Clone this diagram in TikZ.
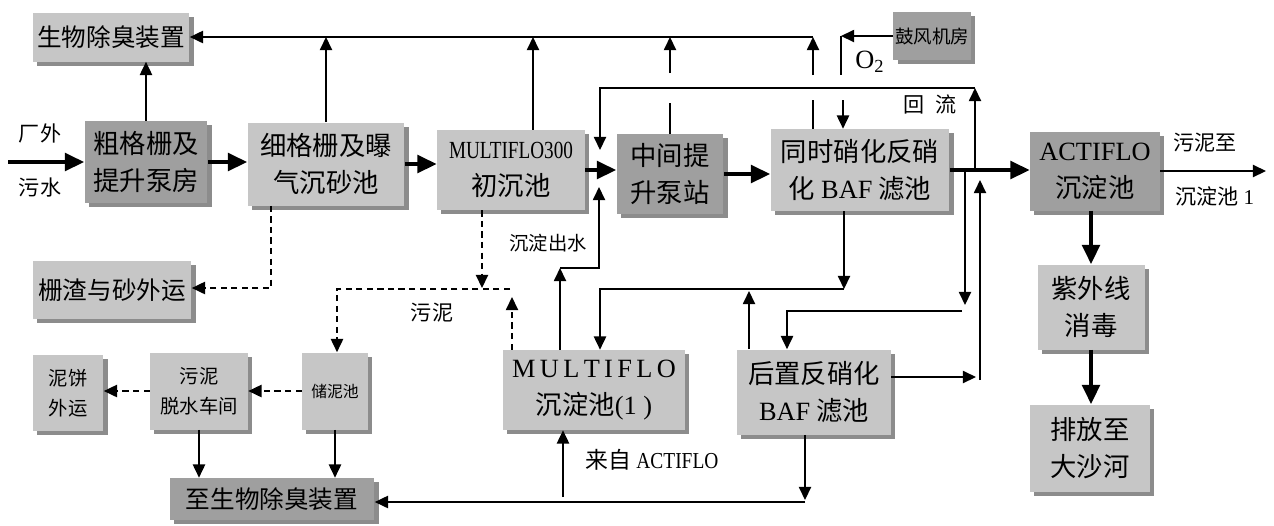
\documentclass[tikz,border=0pt]{standalone}
\usepackage{fontspec}
\usepackage{graphicx}
\setmainfont{Liberation Serif}
\newfontfamily\cjk{Noto Sans CJK SC}
\usetikzlibrary{arrows.meta, positioning, calc, shadows}
\newcommand{\latn}[1]{{\rmfamily #1}}
\tikzset{
  pf box/.style={
    rectangle, fill=gray!45, inner sep=1pt, align=center,
    font=\cjk\fontsize{15}{21}\selectfont,
    drop shadow={shadow xshift=2.5pt, shadow yshift=-2.5pt, fill=black!45, opacity=1}
  },
  pf dark/.style={
    pf box, fill=gray!75
  },
  pf small/.style={
    pf box, font=\cjk\fontsize{11}{17}\selectfont
  },
  pf arrow/.style={
    -{Triangle[length=7.5pt, width=7pt]}, line width=0.8pt
  },
  pf thick/.style={
    -{Triangle[length=11pt, width=10pt]}, line width=2.3pt
  },
  pf dashed/.style={
    pf arrow, dash pattern=on 3.5pt off 2.5pt
  },
  pf label/.style={
    font=\cjk\fontsize{12}{14}\selectfont, inner sep=1pt
  }
}
\begin{document}
\begin{tikzpicture}[x=0.02cm, y=-0.02cm]
  \useasboundingbox (0,0) rectangle (1274,525);
  % Main line: inlet -> screens -> primary -> pump -> BAF -> ACTIFLO
  \node (odor) [pf box, minimum width=3.14cm, minimum height=0.98cm, font=\cjk\fontsize{14}{16}\selectfont] at (111,37) {生物除臭装置};
  \node (coarse) [pf dark, minimum width=2.46cm, minimum height=1.64cm] at (146,162) {粗格栅及\\提升泵房};
  \node (fine) [pf box, minimum width=3.14cm, minimum height=1.66cm] at (326,164) {细格栅及曝\\气沉砂池};
  \node (prim) [pf box, minimum width=2.96cm, minimum height=1.6cm] at (511,170) {\latn{\fontsize{14}{16}\selectfont\scalebox{0.78}[1]{MULTIFLO300}}\\初沉池};
  \node (pump) [pf dark, minimum width=2.14cm, minimum height=1.6cm] at (670,174) {中间提\\升泵站};
  \node (snd) [pf box, minimum width=3.58cm, minimum height=1.64cm] at (860,170) {同时硝化反硝\\化 \latn{BAF} 滤池};
  \node (acti) [pf dark, minimum width=2.6cm, minimum height=1.58cm] at (1095,171) {\latn{ACTIFLO}\\沉淀池};
  \node (blower) [pf dark, minimum width=1.5cm, minimum height=0.96cm, font=\cjk\fontsize{10.5}{12}\selectfont] at (932,36) {鼓风机房};
  % Sludge and side units
  \node (screen) [pf box, minimum width=3.18cm, minimum height=1.16cm, font=\cjk\fontsize{14}{16}\selectfont] at (112,290) {栅渣与砂外运};
  \node (cake) [pf small, minimum width=1.42cm, minimum height=1.52cm] at (68,393) {泥饼\\外运};
  \node (dewater) [pf small, minimum width=1.96cm, minimum height=1.54cm] at (199,391) {污泥\\脱水车间};
  \node (store) [pf small, minimum width=1.32cm, minimum height=1.54cm, font=\cjk\fontsize{9}{11}\selectfont] at (335,391) {储泥池};
  \node (todeo) [pf dark, minimum width=4.1cm, minimum height=0.84cm, font=\cjk\fontsize{14}{16}\selectfont] at (272,499) {至生物除臭装置};
  \node (mf1) [pf box, minimum width=3.64cm, minimum height=1.6cm] at (594,390) {\latn{M\,U\,L\,T\,I\,F\,L\,O}\\沉淀池\latn{(1 )}};
  \node (post) [pf box, minimum width=3.08cm, minimum height=1.7cm] at (814,392) {后置反硝化\\\latn{BAF} 滤池};
  \node (uv) [pf box, minimum width=2.14cm, minimum height=1.7cm] at (1091,307) {紫外线\\消毒};
  \node (out) [pf box, minimum width=2.4cm, minimum height=1.74cm] at (1090,448) {排放至\\大沙河};
  % Labels
  \node (lbA) [pf label] at (40,133) {厂外};
  \node (lbB) [pf label] at (40,188) {污水};
  \node (lbC) [pf label] at (1205,143) {污泥至};
  \node (lbD) [pf label] at (1215,196) {沉淀池 \latn{1}};
  \node (lbE) [pf label] at (930,104) {回\enspace 流};
  \node (lbF) [pf label, font=\cjk\fontsize{11}{13}\selectfont] at (548,243) {沉淀出水};
  \node (lbG) [pf label] at (432,313) {污泥};
  \node (lbH) [pf label, font=\cjk\fontsize{13}{15}\selectfont] at (652,460) {来自 \latn{\scalebox{0.85}[1]{ACTIFLO}}};
  \node (lbO) [pf label, font=\rmfamily\fontsize{15}{17}\selectfont] at (870,62) {O\textsubscript{2}};

  % Water line
  \coordinate (inlet) at (8,162);
  \coordinate (sludgeout) at (1266,171);
  \draw [pf thick] (inlet) -- (coarse.west);
  \draw [pf thick] (coarse.east) -- (coarse.east -| fine.west);
  \draw [pf thick] (fine.east) -- (fine.east -| prim.west);
  \draw [pf thick] (prim.east) -- (prim.east -| pump.west);
  \draw [pf thick] (pump.east) -- (pump.east -| snd.west);
  \draw [pf thick] (snd.east) -- (snd.east -| acti.west);
  \draw [pf arrow] (acti.east) -- (sludgeout);
  \draw [pf thick] (acti.south -| uv.north) -- (uv.north);
  \draw [pf thick] (uv.south) -- (uv.south |- out.north);

  % Odour collection
  \coordinate (topR) at (813,37);
  \coordinate (pU) at ($(prim.north)+(22,0)$);
  \coordinate (hopA) at (670,103);
  \coordinate (hopB) at (670,73);
  \coordinate (sA) at (813,100);
  \coordinate (sB) at (813,75);
  \draw [pf arrow] (topR) -- (odor.east);
  \draw [pf arrow] (coarse.north) -- (coarse.north |- odor.south);
  \draw [pf arrow] (fine.north) -- (fine.north |- topR);
  \draw [pf arrow] (pU) -- (pU |- topR);
  \draw [line width=0.8pt] (pump.north) -- (pump.north |- hopA);
  \draw [pf arrow] (pump.north |- hopB) -- (pump.north |- topR);
  \draw [line width=0.8pt] (snd.north -| sA) -- (sA);
  \draw [pf arrow] (sB) -- (topR);

  % Air
  \coordinate (o2c) at (841,36);
  \coordinate (o2a) at (841,75);
  \coordinate (o2b) at (843,100);
  \draw [pf arrow] (blower.west) -- (o2c);
  \draw [line width=0.8pt] (o2c) -- (o2a);
  \draw [pf arrow] (o2b) -- (o2b |- snd.north);

  % Recycle
  \coordinate (rfJ) at (975,170);
  \coordinate (rfR) at (975,88);
  \coordinate (rfL) at (600,88);
  \coordinate (rfD) at (600,150);
  \draw [pf arrow] (rfJ) -- (rfR);
  \draw [pf arrow] (rfR) -- (rfL) -- (rfD);

  % MULTIFLO and post BAF
  \coordinate (e1) at (560,268);
  \coordinate (e2) at (599,187);
  \draw [pf arrow] (mf1.north -| e1) -- (e1);
  \draw [pf arrow] (e1) -| (e2);
  \coordinate (b1) at (844,289);
  \coordinate (b2) at (600,289);
  \coordinate (b3) at (749,291);
  \draw [pf arrow] (snd.south -| b1) -- (b1);
  \draw [pf arrow] (b1) -- (b2) -- (b2 |- mf1.north);
  \draw [pf arrow] (post.north -| b3) -- (b3);
  \coordinate (d1) at (965,170);
  \coordinate (d2) at (965,305);
  \coordinate (d3) at (962,311);
  \coordinate (d4) at (787,311);
  \draw [pf arrow] (d1) -- (d2);
  \draw [pf arrow] (d3) -- (d4) -- (d4 |- post.north);
  \coordinate (r1) at (976,377);
  \coordinate (r2) at (980,380);
  \coordinate (r3) at (980,180);
  \draw [pf arrow] (post.east |- r1) -- (r1);
  \draw [pf arrow] (r2) -- (r3);
  \coordinate (p1) at (805,500);
  \coordinate (p2) at (805,502);
  \draw [pf arrow] (post.south -| p1) -- (p1);
  \draw [pf arrow] (p2) -- (todeo.east |- p2);
  \coordinate (fa) at (563,497);
  \draw [pf arrow] (fa) -- (fa |- mf1.south);

  % Sludge line
  \coordinate (s1) at (482,288);
  \coordinate (s2) at (510,289);
  \coordinate (s3) at (337,289);
  \coordinate (s4) at (512,297);
  \coordinate (g1) at (271,288);
  \draw [pf dashed] (prim.south -| s1) -- (s1);
  \draw [pf dashed] (s2) -- (s3) -- (s3 |- store.north);
  \draw [pf dashed] (mf1.north -| s4) -- (s4);
  \draw [pf dashed] (fine.south -| g1) -- (g1) -- (screen.east |- g1);
  \draw [pf dashed] (store.west) -- (dewater.east);
  \draw [pf dashed] (dewater.west) -- (dewater.west -| cake.east);
  \draw [pf arrow] (dewater.south) -- (dewater.south |- todeo.north);
  \draw [pf arrow] (store.south) -- (store.south |- todeo.north);
\end{tikzpicture}
\end{document}
